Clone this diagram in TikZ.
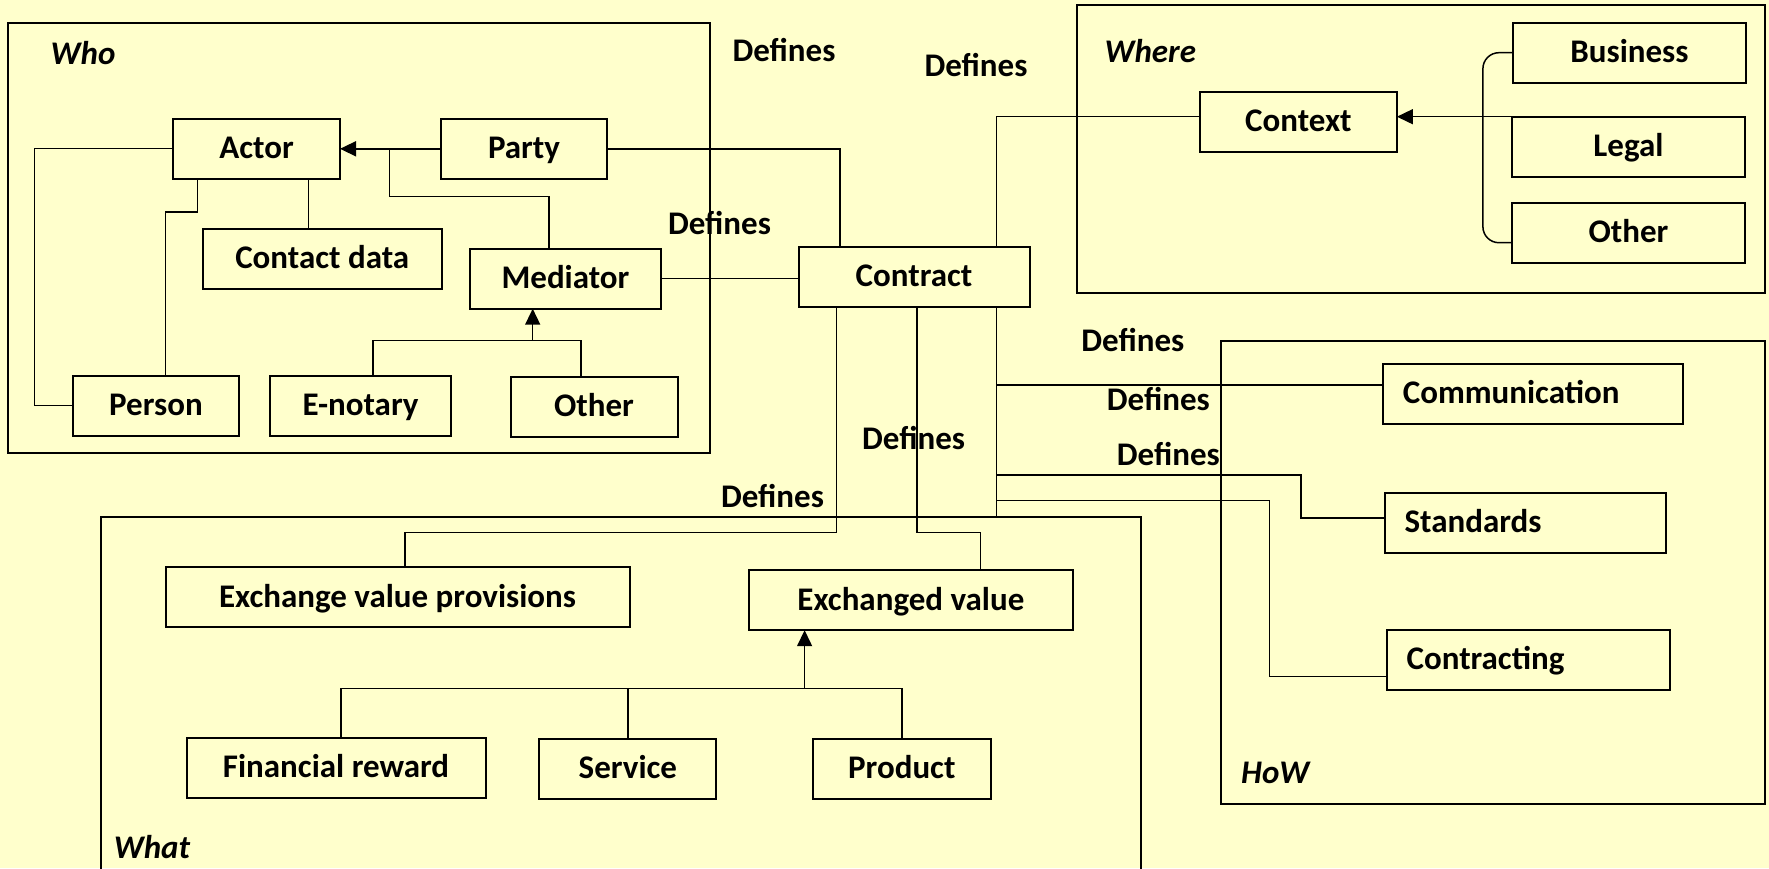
\documentclass[tikz,border=0pt]{standalone}
\usepackage{fontspec}
\setmainfont{Carlito}
\usetikzlibrary{arrows.meta}
\definecolor{paper}{HTML}{FFFFCC}
\begin{document}
\begin{tikzpicture}[x=1pt,y=-1pt,
  txt/.style={font=\fontsize{33}{39}\selectfont\bfseries, text height=24pt, text depth=4.4pt},
  box/.style={txt, draw, line width=2pt, fill=paper, minimum height=60, inner sep=0, outer sep=0},
  lbox/.style={box, align=left, inner xsep=20},
  frame/.style={draw, line width=2pt, inner sep=0, outer sep=0},
  tag/.style={anchor=base west, inner sep=0, font=\fontsize{33}{39}\selectfont\bfseries\itshape},
  lbl/.style={txt, inner sep=0},
  conn/.style={line width=1.5pt},
  arr/.style={conn, -{Triangle[length=16pt 0 0,width=15pt 0 0]}}]

\clip (0,0) rectangle (1769,868);
\fill[paper] (0,0) rectangle (1769,868);

% group frames
\node[frame, minimum width=701.2, minimum height=429.4] (whoframe) at (358.9,238) {};
\node[frame, minimum width=687.6, minimum height=288] (whereframe) at (1420.8,148.7) {};
\node[frame, minimum width=543.6, minimum height=463.2] (howframe) at (1492.8,572.6) {};
\node[frame, minimum width=1039.5, minimum height=383.3] (whatframe) at (620.75,708.35) {};

\node[tag] (whotag) at (50.5,64.3) {Who};
\node[tag] (wheretag) at (1104.4,62.3) {Where};
\node[tag] (howtag) at (1241,783.6) {HoW};
\node[tag] (whattag) at (113.7,858.3) {What};

% "Defines" labels
\node[lbl] (d1) at (784,51.7) {Defines};
\node[lbl] (d2) at (976,66.7) {Defines};
\node[lbl] (d3) at (719.5,225) {Defines};
\node[lbl] (d4) at (1132.9,341.7) {Defines};
\node[lbl] (d5) at (1158.4,400.7) {Defines};
\node[lbl] (d6) at (1168.4,455.7) {Defines};
\node[lbl] (d7) at (913.6,439.5) {Defines};
\node[lbl] (d8) at (772.5,497.4) {Defines};

% who
\node[box, minimum width=167] (actor) at (256.5,148.5) {Actor};
\node[box, minimum width=166] (party) at (524,148.8) {Party};
\node[box, minimum width=239] (contact) at (322.2,258.7) {Contact data};
\node[box, minimum width=191] (mediator) at (565.5,278.7) {Mediator};
\node[box, minimum width=166] (person) at (156,405.7) {Person};
\node[box, minimum width=181] (enotary) at (360.5,405.7) {E-notary};
\node[box, minimum width=167] (other1) at (594,406.7) {Other};

% centre
\node[box, minimum width=231] (contract) at (914,276.7) {Contract};

% where
\node[box, minimum width=197] (context) at (1298.4,121.7) {Context};
\node[box, minimum width=233] (business) at (1629.4,52.7) {Business};
\node[box, minimum width=233] (legal) at (1628.5,146.7) {Legal};
\node[box, minimum width=233] (other2) at (1628.5,232.7) {Other};

% how
\node[lbox, minimum width=300, text width=260] (communication) at (1532.8,393.8) {Communication};
\node[lbox, minimum width=281.5, text width=241.5] (standards) at (1525.3,522.9) {Standards};
\node[lbox, minimum width=283, text width=243] (contracting) at (1528.1,659.8) {Contracting};

% what
\node[box, minimum width=464] (evp) at (397.5,597.4) {Exchange value provisions};
\node[box, minimum width=323.4] (exv) at (910.9,600.2) {Exchanged value};
\node[box, minimum width=299] (financial) at (336,767.7) {Financial reward};
\node[box, minimum width=177] (service) at (627.9,768.7) {Service};
\node[box, minimum width=177.6] (product) at (901.8,768.7) {Product};

% connectors inside who
\draw[conn] (actor.west) -- ++(-138.6,0) |- (person.west);
\draw[conn] ([xshift=-59]actor.south) -- ++(0,33.3) -| ([xshift=9.3]person.north);
\draw[conn] ([xshift=52.1]actor.south) -- ([xshift=52.1]actor.south |- contact.north);
\draw[arr] (party.west) -- (party.west -| actor.east);
\draw[conn] ([xshift=-16.7]mediator.north) -- ++(0,-52) -| ([xshift=49.4]actor.east);
\draw[conn] ([xshift=12.4]enotary.north) -- ++(0,-35) -| ([xshift=-13.1]other1.north);
\draw[arr] ([xshift=-32.8,yshift=-32]mediator.south) -- ([xshift=-32.8]mediator.south);

% contract links
\draw[conn] (party.east) -| ([xshift=-73.8]contract.north);
\draw[conn] (mediator.east) -- (mediator.east -| contract.west);
\draw[conn] ([xshift=82.4]contract.north) |- ([yshift=5]context.west);

% where
\draw[arr] (legal.north west) -- (legal.north west -| context.east);
\draw[conn, rounded corners=16] (business.west) -- ++(-30,0) -- ++(0,190) -- ([yshift=-10]other2.west);

% how
\coordinate (trunk) at ([xshift=82.4]contract.south);
\draw[conn] (trunk) -- (trunk |- whatframe.north);
\draw[conn] ([yshift=9]communication.west) -- ([yshift=9]communication.west -| trunk);
\draw[conn] ([yshift=4.9]standards.west) -- ++(-83.5,0) -- ++(0,-43) coordinate (s1) -- (s1 -| trunk);
\draw[conn] ([yshift=-16.9]contracting.west) -- ++(-117.3,0) -- ++(0,-176) coordinate (c1) -- (c1 -| trunk);

% what
\draw[conn] ([xshift=-77.4]contract.south) -- ++(0,226) -| ([xshift=7.3]evp.north);
\draw[conn] ([xshift=2.9]contract.south) -- ++(0,226) -| ([xshift=69.8]exv.north);
\draw[conn] ([xshift=5]financial.north) -- ++(0,-49) -| (product.north);
\draw[conn] (service.north) -- ++(0,-50);
\draw[arr] ([xshift=-106.3,yshift=-58.7]exv.south) -- ([xshift=-106.3]exv.south);
\end{tikzpicture}
\end{document}
